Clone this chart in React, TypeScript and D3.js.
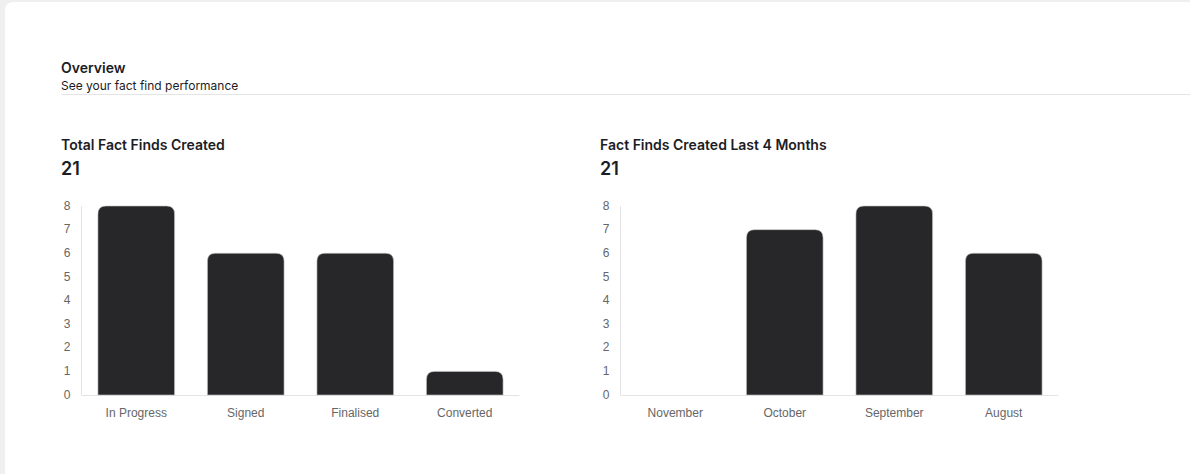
import React from "react";
import * as d3 from "d3";

const statusCategories = ["In Progress", "Signed", "Finalised", "Converted"];
const statusValues = [8, 6, 6, 1];
const monthCategories = ["November", "October", "September", "August"];
const monthValues = [0, 7, 8, 6];
const yTicks = [0, 1, 2, 3, 4, 5, 6, 7, 8];

const W = 1190;
const H = 474;

function topRoundedRect(x: number, y: number, w: number, h: number, r: number) {
  if (h <= 0) return "";
  const rr = Math.min(r, h, w / 2);
  return `M${x},${y + h}V${y + rr}Q${x},${y} ${x + rr},${y}H${x + w - rr}Q${x + w},${y} ${x + w},${y + rr}V${y + h}Z`;
}

function BarPanel({ x0, title, total, cats, vals }: { x0: number; title: string; total: string; cats: string[]; vals: number[] }) {
  const axisX = x0 + 20.5;
  const xScale = d3.scaleBand<string>().domain(cats).range([axisX, axisX + 438]).paddingInner(0.3).paddingOuter(0.15);
  const yScale = d3.scaleLinear().domain([0, 8]).range([395, 206]);
  const axisFont = "'Liberation Sans', Arial, sans-serif";
  return (
    <g>
      <text x={x0} y={150} fontFamily="Inter, sans-serif" fontWeight={600} fontSize={14} fill="#1c1c24">{title}</text>
      <text x={x0} y={175} fontFamily="Inter, sans-serif" fontWeight={600} fontSize={18} fill="#1c1c24">{total}</text>
      <line x1={axisX} x2={axisX} y1={yScale(8)} y2={yScale(0)} stroke="#e4e4e7" strokeWidth={1} />
      <line x1={axisX} x2={axisX + 438} y1={yScale(0) + 0.5} y2={yScale(0) + 0.5} stroke="#e4e4e7" strokeWidth={1} />
      {yTicks.map((t) => (
        <text key={t} x={axisX - 11} y={yScale(t) - 0.5} dy="0.35em" textAnchor="end" fontFamily={axisFont} fontSize={12} fill="#666">{t}</text>
      ))}
      {cats.map((c, i) => (
        <g key={c}>
          <path
            d={topRoundedRect(xScale(c)!, yScale(vals[i]), xScale.bandwidth(), yScale(0) - yScale(vals[i]), 8)}
            fill="#27272a"
            stroke="#c8c8c8"
            strokeWidth={0.6}
          />
          <text x={xScale(c)! + xScale.bandwidth() / 2} y={413} dy="0.35em" textAnchor="middle" fontFamily={axisFont} fontSize={12} fill="#666">{c}</text>
        </g>
      ))}
    </g>
  );
}

export default function App() {
  return (
    <svg width={W} height={H} style={{ position: "fixed", left: 0, top: 0 }}>
      <rect x={0} y={0} width={W} height={H} fill="#efefef" />
      <rect x={5} y={2} width={W + 20} height={H + 20} rx={8} fill="#ffffff" />
      <text x={61} y={73} fontFamily="Inter, sans-serif" fontWeight={600} fontSize={14} fill="#1c1c24">Overview</text>
      <text x={61} y={90} fontFamily="Inter, sans-serif" fontSize={12} fill="#1c1c24">See your fact find performance</text>
      <line x1={61} x2={W} y1={94.5} y2={94.5} stroke="#e4e4e7" strokeWidth={1} />
      <BarPanel x0={61} title="Total Fact Finds Created" total="21" cats={statusCategories} vals={statusValues} />
      <BarPanel x0={600} title="Fact Finds Created Last 4 Months" total="21" cats={monthCategories} vals={monthValues} />
    </svg>
  );
}
